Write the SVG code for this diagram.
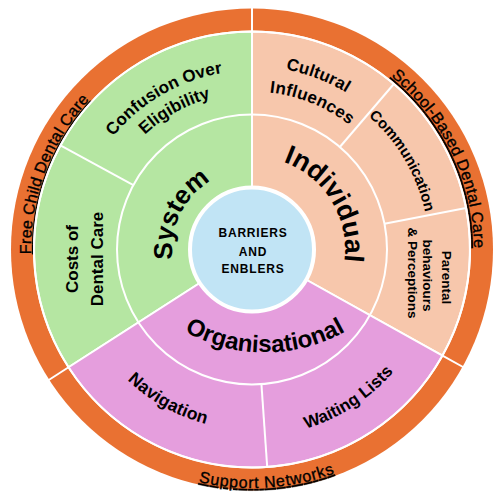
<svg xmlns="http://www.w3.org/2000/svg" width="500" height="500" viewBox="0 0 500 500">
<style>
  text { font-family: "Liberation Sans", Arial, sans-serif; fill: #000; }
  .ring { font-size: 16px; text-decoration: underline; stroke: #000; stroke-width: 0.35px; }
  .seg { font-size: 17px; font-weight: bold; }
  .big { font-size: 26px; font-weight: bold; }
  .ctr { font-size: 12px; font-weight: bold; letter-spacing: 0.8px; }
  .sep { stroke: #fff; stroke-width: 2; fill: none; }
  .wedge { stroke: #fff; stroke-width: 2; }
</style>
<defs>
  <path id="pSystem" d="M185.68,294.24 A80,80 0 0 1 246.42,169.7"/>
  <path id="pIndividual" d="M241.47,157.1 A93,93 0 0 1 329.55,300.83"/>
  <path id="pOrg" d="M123.84,271 A163,163 0 0 0 406.16,271"/>
  <path id="pFree" d="M107.89,417.05 A221,221 0 0 1 254.7,28.52"/>
  <path id="pSchool" d="M268.26,28.1 A222,222 0 0 1 435.61,374.28"/>
  <path id="pSupport" d="M53.45,381.63 A238.5,238.5 0 0 0 465.72,355.36"/>
  <path id="pConf" d="M73,250.12 A179,179 0 0 1 340.96,94.17"/>
  <path id="pElig" d="M97.78,220.08 A157,157 0 0 1 307.75,102.73"/>
  <path id="pCult" d="M162.72,89.76 A183,183 0 0 1 424.82,189.32"/>
  <path id="pInfl" d="M178.31,109.74 A158,158 0 0 1 402.44,201.2"/>
  <path id="pComm" d="M281.21,74.93 A177,177 0 0 1 418.85,308.58"/>
  <path id="pNav" d="M74.67,283.17 A180.5,180.5 0 0 0 315.95,418.29"/>
  <path id="pWait" d="M197.33,428.33 A187,187 0 0 0 437.61,272.29"/>
</defs>
<rect width="500" height="500" fill="#fff"/>

<g id="outer-ring">
  <circle cx="252" cy="249.5" r="241" fill="#E97132"/>
  <text class="ring"><textPath href="#pFree" startOffset="50%" text-anchor="middle" textLength="169" lengthAdjust="spacing">Free Child Dental Care</textPath></text>
  <text class="ring"><textPath href="#pSchool" startOffset="50%" text-anchor="middle" textLength="197" lengthAdjust="spacing">School-Based Dental Care</textPath></text>
  <text class="ring"><textPath href="#pSupport" startOffset="50%" text-anchor="middle" textLength="138" lengthAdjust="spacing">Support  Networks</textPath></text>
</g>

<g id="system">
  <path class="wedge" fill="#B5E6A2" d="M252,249.5 L68.55,367.27 A218,218 0 0 1 252,31.5 Z"/>
  <text class="seg"><textPath href="#pConf" startOffset="50%" text-anchor="middle" textLength="129" lengthAdjust="spacing">Confusion Over</textPath></text>
  <text class="seg"><textPath href="#pElig" startOffset="50%" text-anchor="middle" textLength="76" lengthAdjust="spacing">Eligibility</textPath></text>
  <text class="seg" x="78" y="259" text-anchor="middle" transform="rotate(-90 78 259)">Costs of</text>
  <text class="seg" x="103" y="259" text-anchor="middle" transform="rotate(-90 103 259)">Dental Care</text>
  <text class="big"><textPath href="#pSystem" startOffset="50%" text-anchor="middle">System</textPath></text>
</g>

<g id="individual">
  <path class="wedge" fill="#F7C7AC" d="M252,249.5 L252,31.5 A218,218 0 0 1 442.48,355.52 Z"/>
  <text class="seg"><textPath href="#pCult" startOffset="50%" text-anchor="middle" textLength="65" lengthAdjust="spacing">Cultural</textPath></text>
  <text class="seg"><textPath href="#pInfl" startOffset="50%" text-anchor="middle" textLength="87" lengthAdjust="spacing">Influences</textPath></text>
  <text class="seg" style="font-size:15px"><textPath href="#pComm" startOffset="50%" text-anchor="middle" textLength="113" lengthAdjust="spacing">Communication</textPath></text>
  <text class="seg" style="font-size:13.5px" x="442" y="277.5" text-anchor="middle" transform="rotate(90 442 277.5)">Parental</text>
  <text class="seg" style="font-size:13.5px" x="423" y="275.5" text-anchor="middle" transform="rotate(90 423 275.5)">behaviours</text>
  <text class="seg" style="font-size:13.5px" x="407.5" y="273" text-anchor="middle" transform="rotate(90 407.5 273)">&amp; Perceptions</text>
  <text class="big" style="font-size:27px"><textPath href="#pIndividual" startOffset="50%" text-anchor="middle">Individual</textPath></text>
</g>

<g id="organisational">
  <path class="wedge" fill="#E59EDD" d="M252,249.5 L442.48,355.52 A218,218 0 0 1 68.55,367.27 Z"/>
  <text class="seg" style="font-size:17.5px"><textPath href="#pNav" startOffset="50%" text-anchor="middle" textLength="91" lengthAdjust="spacing">Navigation</textPath></text>
  <text class="seg"><textPath href="#pWait" startOffset="50%" text-anchor="middle" textLength="105.5" lengthAdjust="spacing">Waiting Lists</textPath></text>
  <text class="big" style="font-size:24px"><textPath href="#pOrg" startOffset="50%" text-anchor="middle">Organisational</textPath></text>
</g>

<g id="connectors">
  <circle class="sep" cx="252" cy="249.5" r="218" stroke-width="2.5"/>
  <circle class="sep" cx="252" cy="249.5" r="135"/>
  <line class="sep" x1="252" y1="31.5" x2="252" y2="7"/>
  <line class="sep" x1="442.48" y1="355.52" x2="463.9" y2="367.5"/>
  <line class="sep" x1="68.55" y1="367.27" x2="48" y2="380.5"/>
  <line class="sep" x1="133.36" y1="185.08" x2="60.42" y2="145.48"/>
  <line class="sep" x1="339.83" y1="147" x2="393.83" y2="83.98"/>
  <line class="sep" x1="384.52" y1="223.74" x2="466" y2="207.9"/>
  <line class="sep" x1="261.42" y1="384.17" x2="267.21" y2="466.97"/>
</g>

<g id="center">
  <circle cx="252" cy="249.5" r="62" fill="#C1E4F5" stroke="#fff" stroke-width="4"/>
  <text class="ctr" x="253" y="237" text-anchor="middle">BARRIERS</text>
  <text class="ctr" x="253" y="255.5" text-anchor="middle">AND</text>
  <text class="ctr" x="253" y="273" text-anchor="middle">ENBLERS</text>
</g>
</svg>
